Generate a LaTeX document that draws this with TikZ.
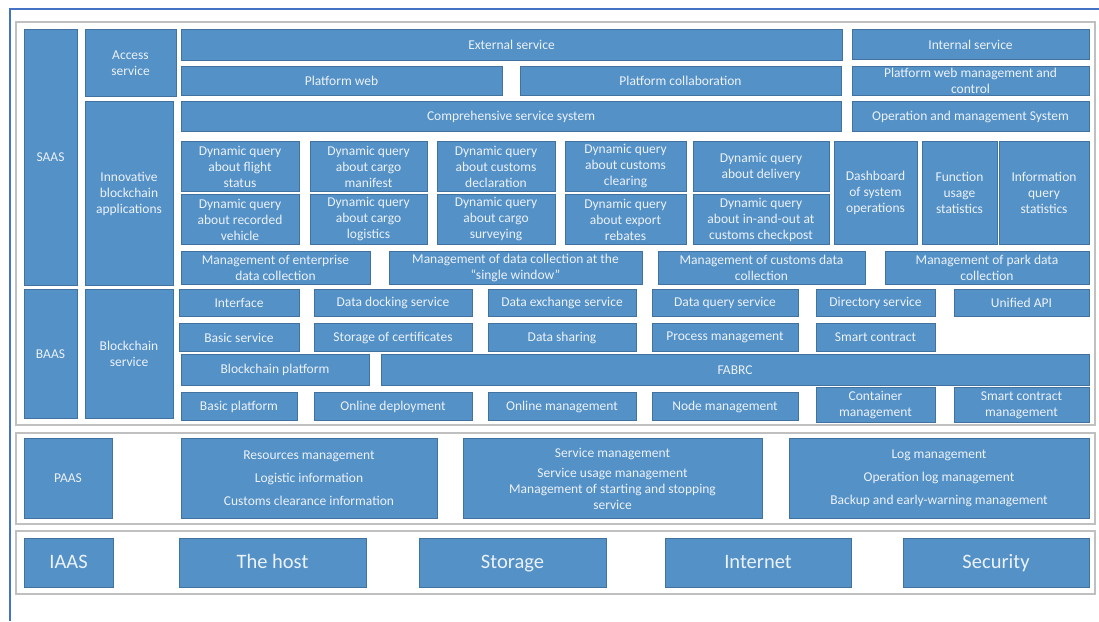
\documentclass[tikz,border=0pt]{standalone}
\usepackage{fontspec}
\setmainfont{Carlito}
\definecolor{boxfill}{RGB}{84,145,198}
\definecolor{boxline}{RGB}{66,114,160}
\definecolor{boxtext}{RGB}{236,242,250}
\definecolor{frameblue}{RGB}{68,114,196}
\definecolor{framegray}{RGB}{192,192,192}
\tikzset{
  bx/.style={draw=boxline, line width=0.6pt, fill=boxfill, text=boxtext,
    inner sep=0pt, outer sep=0pt, align=center,
    font=\fontsize{13.5}{16}\selectfont},
  bigtext/.style={font=\fontsize{20.5}{24}\selectfont, text height=14pt, text depth=4pt},
  grayframe/.style={draw=framegray, line width=1.5pt},
}
\newcommand\bx[7][]{\node[bx,#1,minimum width={#5-#3},minimum height={#6-#4}] (#2) at ({(#3+#5)/2},{(#4+#6)/2+0.5}) {#7};}
\begin{document}
\begin{tikzpicture}[x=1pt,y=-1pt]
\useasboundingbox (0,0) rectangle (1099,621);
\fill[white] (0,0) rectangle (1099,621);
% outer blue frame
\draw[frameblue, line width=2pt] (10,621) -- (10,9) -- (1099,9);
% gray frames
\draw[grayframe] (16,22) rectangle (1095,425);
\draw[grayframe] (16,433) rectangle (1095,524);
\draw[grayframe] (16,531) rectangle (1095,594);

% left labels
\bx{saas}{24}{29}{77}{285}{SAAS}
\bx{baas}{24}{289}{77}{418}{BAAS}
\bx{access}{85}{29}{176}{96}{Access\\service}
\bx{innov}{85}{101}{173}{285}{Innovative\\blockchain\\applications}
\bx{bcserv}{85}{289}{173}{418}{Blockchain\\service}

% SAAS top rows
\bx{ext}{181}{29}{842}{60}{External service}
\bx{int}{852}{29}{1089}{59}{Internal service}
\bx{pweb}{181}{66}{502}{95}{Platform web}
\bx{pcol}{520}{66}{841}{95}{Platform collaboration}
\bx{pwmc}{852}{66}{1089}{95}{Platform web management and\\control}
\bx{css}{181}{101}{841}{131}{Comprehensive service system}
\bx{oms}{852}{101}{1089}{131}{Operation and management System}

% dynamic queries row 1
\bx{dq1}{181}{141}{299}{191}{Dynamic query\\about flight\\status}
\bx{dq2}{310}{141}{427}{191}{Dynamic query\\about cargo\\manifest}
\bx{dq3}{437}{141}{555}{191}{Dynamic query\\about customs\\declaration}
\bx{dq4}{565}{141}{686}{191}{Dynamic query\\about customs\\clearing}
\bx{dq5}{693}{141}{829}{191}{Dynamic query\\about delivery}
% row 2
\bx{dq6}{181}{194}{299}{244}{Dynamic query\\about recorded\\vehicle}
\bx{dq7}{310}{194}{427}{244}{Dynamic query\\about cargo\\logistics}
\bx{dq8}{437}{194}{555}{244}{Dynamic query\\about cargo\\surveying}
\bx{dq9}{565}{194}{686}{244}{Dynamic query\\about export\\rebates}
\bx{dq10}{693}{194}{829}{244}{Dynamic query\\about in-and-out at\\customs checkpost}
\bx{dash}{834}{141}{917}{244}{Dashboard\\of system\\operations}
\bx{func}{922}{141}{997}{244}{Function\\usage\\statistics}
\bx{info}{999}{141}{1089}{244}{Information\\query\\statistics}

% management row
\bx{ment}{181}{251}{370}{284}{Management of enterprise\\data collection}
\bx{msw}{389}{251}{642}{284}{Management of data collection at the\\“single window”}
\bx{mcus}{658}{251}{865}{284}{Management of customs data\\collection}
\bx{mpark}{885}{251}{1089}{284}{Management of park data\\collection}

% BAAS row 1
\bx{iface}{179}{289}{299}{316}{Interface}
\bx{dock}{314}{289}{472}{316}{Data docking service}
\bx{exch}{488}{289}{636}{316}{Data exchange service}
\bx{query}{652}{289}{798}{316}{Data query service}
\bx{dir}{816}{289}{935}{316}{Directory service}
\bx{api}{954}{289}{1089}{316}{Unified API}
% row 2
\bx{basic}{179}{323}{299}{351}{Basic service}
\bx{cert}{314}{323}{472}{351}{Storage of certificates}
\bx{share}{488}{323}{636}{351}{Data sharing}
\bx{proc}{652}{323}{798}{351}{Process management}
\bx{smart}{816}{323}{935}{351}{Smart contract}
% row 3
\bx{bcplat}{181}{354}{369}{385}{Blockchain platform}
\bx{fabrc}{381}{354}{1089}{385}{FABRC}
% row 4
\bx{bplat}{181}{392}{297}{420}{Basic platform}
\bx{odep}{314}{392}{472}{420}{Online deployment}
\bx{omgmt}{488}{392}{636}{420}{Online management}
\bx{node}{652}{392}{798}{420}{Node management}
\bx{cont}{816}{387}{935}{422}{Container\\management}
\bx{scm}{954}{387}{1089}{422}{Smart contract\\management}

% PAAS
\bx{paas}{24}{438}{112}{518}{PAAS}
\bx{res}{181}{438}{437}{518}{Resources management\\[7pt]Logistic information\\[7pt]Customs clearance information}
\bx{serv}{463}{438}{762}{518}{Service management\\[4pt]Service usage management\\Management of starting and stopping\\service}
\bx{log}{789}{438}{1089}{518}{Log management\\[7pt]Operation log management\\[7pt]Backup and early-warning management}

% IAAS
\bx[bigtext]{iaas}{24}{538}{113}{587}{IAAS}
\bx[bigtext]{host}{179}{538}{366}{587}{The host}
\bx[bigtext]{stor}{419}{538}{606}{587}{Storage}
\bx[bigtext]{net}{665}{538}{851}{587}{Internet}
\bx[bigtext]{sec}{903}{538}{1089}{587}{Security}
\end{tikzpicture}
\end{document}
